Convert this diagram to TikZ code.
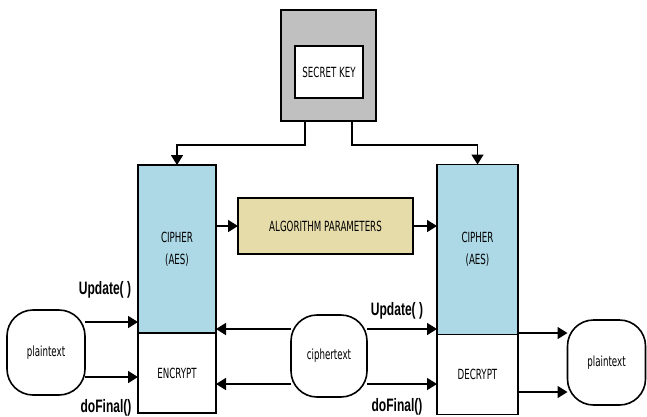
\documentclass[tikz,border=0pt]{standalone}
\usepackage{fontspec}
\usepackage{xcolor}
\usepackage{tikz}
\usetikzlibrary{arrows.meta, positioning, calc}

\newfontfamily\boxfont[FakeStretch=0.62]{DejaVu Sans}
\newfontfamily\callfont[FakeStretch=0.67]{Liberation Sans}
\definecolor{cipherblue}{RGB}{173,216,230}
\definecolor{paramtan}{RGB}{230,220,170}
\definecolor{keygray}{RGB}{192,192,192}

\begin{document}
\begin{tikzpicture}[
  x=1pt, y=-1pt,
  box/.style={rectangle, draw, line width=1.6pt, outer sep=0pt, inner sep=0pt, align=center, font=\boxfont\fontsize{14}{22}\selectfont},
  blob/.style={box, rounded corners=26pt},
  call/.style={font=\callfont\bfseries\fontsize{18}{20}\selectfont, inner sep=0pt},
  arrow/.style={line width=1.6pt, -{Triangle[length=10pt,width=12pt]}}
]
  \useasboundingbox (0,0) rectangle (647,416);

  % key
  \node[box, fill=keygray, minimum width=95pt, minimum height=111pt] (key) at (328.5,65.5) {};
  \node[box, fill=white, minimum width=68pt, minimum height=52pt] (secret) at (329,72) {SECRET KEY};

  % cipher blocks
  \node[box, fill=cipherblue, minimum width=78pt, minimum height=168pt] (cipL) at (177,249) {CIPHER\\(AES)};
  \node[box, minimum width=78pt, minimum height=80pt, below=0pt of cipL] (enc) {ENCRYPT};
  \node[box, fill=cipherblue, minimum width=81pt, minimum height=170pt] (cipR) at (477.5,249.5) {CIPHER\\(AES)};
  \node[box, minimum width=81pt, minimum height=80pt, below=0pt of cipR] (dec) {DECRYPT};
  \node[box, fill=paramtan, minimum width=175pt, minimum height=56pt] (params) at (325.5,226) {ALGORITHM PARAMETERS};

  % data
  \node[blob, minimum width=78pt, minimum height=85pt] (plainL) at (46,352.5) {plaintext};
  \node[blob, minimum width=76pt, minimum height=82pt] (ctext) at (329,356) {ciphertext};
  \node[blob, minimum width=78pt, minimum height=85pt] (plainR) at (606.5,362.5) {plaintext};

  % calls
  \node[call] (updL) at (105,290) {Update( )};
  \node[call] (finL) at (106,408) {doFinal()};
  \node[call] (updR) at (397,311) {Update( )};
  \node[call] (finR) at (397,407) {doFinal()};

  \coordinate (inA) at (0,322);
  \coordinate (inB) at (0,377);
  \coordinate (midA) at (0,329);
  \coordinate (midB) at (0,384);
  \coordinate (outA) at (0,333);
  \coordinate (outB) at (0,392);
  \coordinate (kL) at (305,145);
  \coordinate (kR) at (352,145);

  \draw[arrow] (key.south -| kL) -- (kL) -- (kL -| cipL) -- (cipL.north);
  \draw[arrow] (key.south -| kR) -- (kR) -- (kR -| cipR) -- (cipR.north);
  \draw[arrow] (cipL.east |- params) -- (params.west);
  \draw[arrow] (params.east) -- (cipR.west |- params);
  \draw[arrow] (plainL.east |- inA) -- (cipL.west |- inA);
  \draw[arrow] (plainL.east |- inB) -- (enc.west |- inB);
  \draw[arrow] (ctext.west |- midA) -- (cipL.east |- midA);
  \draw[arrow] (ctext.west |- midB) -- (enc.east |- midB);
  \draw[arrow] (ctext.east |- midA) -- (cipR.west |- midA);
  \draw[arrow] (ctext.east |- midB) -- (dec.west |- midB);
  \draw[arrow] (dec.east |- outA) -- (plainR.west |- outA);
  \draw[arrow] (dec.east |- outB) -- (plainR.west |- outB);
\end{tikzpicture}
\end{document}
